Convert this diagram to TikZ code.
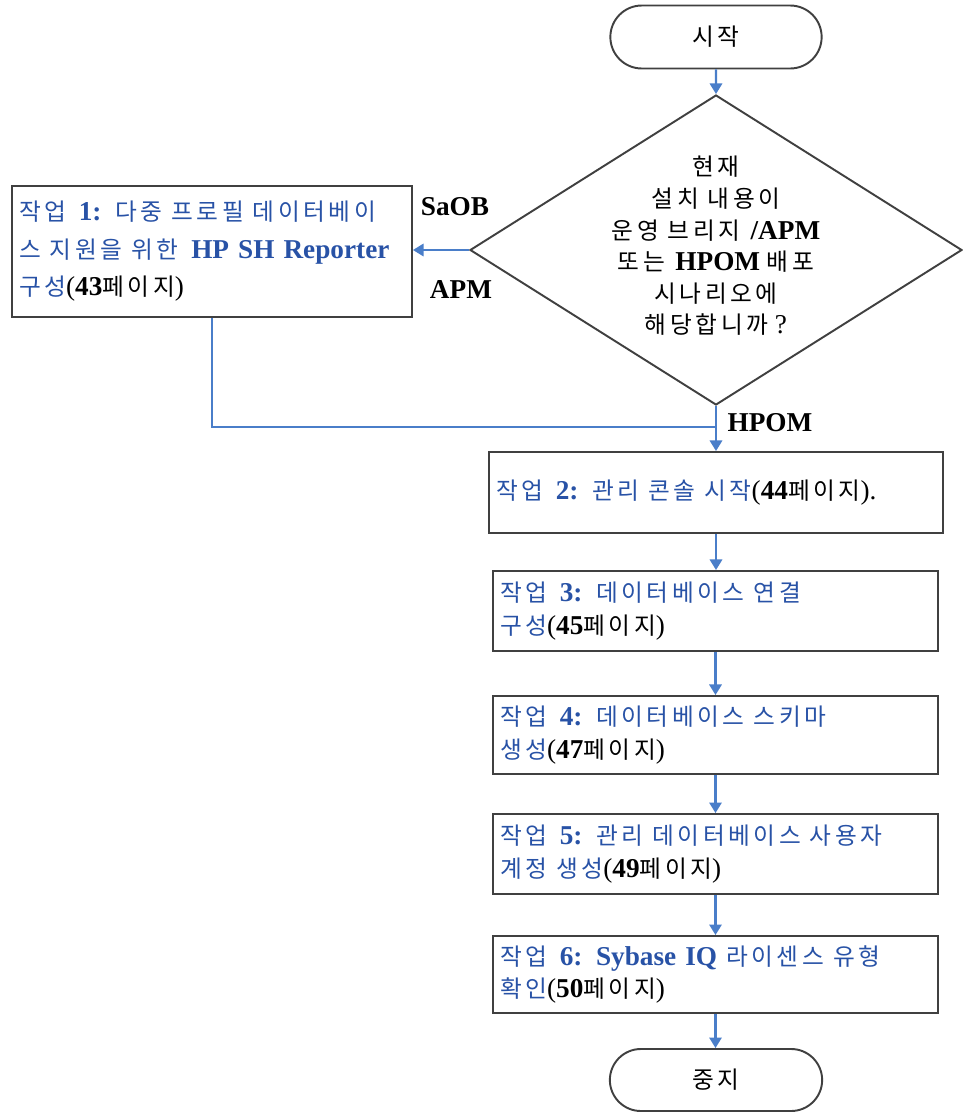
\documentclass[tikz,border=0pt]{standalone}
\usepackage{fontspec}
\setmainfont{Liberation Serif}
\newfontfamily\kr[Scale=0.87,LetterSpace=15]{Noto Sans CJK KR}
\usetikzlibrary{shapes.geometric,shapes.misc,arrows.meta}
\definecolor{taskblue}{RGB}{40,82,166}
\definecolor{arrowblue}{RGB}{74,126,201}
\definecolor{boxgray}{RGB}{64,64,64}
\newcommand{\ko}[1]{{\kr #1}}
\newcommand{\lnk}[1]{\textcolor{taskblue}{#1}}
\newcommand{\widesp}{\spaceskip=7.5pt plus 1pt minus 1pt\relax}
\begin{document}
\begin{tikzpicture}[font=\fontsize{15.5}{19}\selectfont\widesp,
  term/.style={draw=boxgray,line width=1.1pt,rounded rectangle,minimum width=4.46cm,minimum height=1.26cm},
  task/.style={draw=boxgray,line width=1.1pt,rectangle,align=left,inner xsep=0.14cm,inner ysep=0pt},
  flow/.style={draw=arrowblue,line width=1.3pt,-{Triangle[width=7pt,length=6pt]}},
  link/.style={draw=arrowblue,line width=1.3pt}]
\useasboundingbox (0,0) rectangle (19.24,-22.28);
\node[term] (start) at (14.32,-0.74) {\ko{시작}};
\node[draw=boxgray,line width=1.1pt,diamond,minimum width=9.84cm,minimum height=6.2cm,inner sep=0pt] (dec) at (14.32,-5.0) {};
\node[align=center,font=\fontsize{15.5}{18}\selectfont] (question) at (14.32,-4.92)
  {\ko{현재}\\ \ko{설치 내용이}\\ \ko{운영 브리지} \textbf{/APM}\\ \ko{또는} \textbf{HPOM} \ko{배포}\\ \ko{시나리오에}\\ \ko{해당합니까} ?};
\node[task,text width=7.72cm,minimum height=2.62cm,font=\fontsize{15.5}{21.3}\selectfont\widesp] (box1) at (4.24,-5.03)
  {\lnk{\ko{작업} \textbf{1:} \ko{다중 프로필 데이터베이}}\\ \lnk{\ko{스 지원을 위한} \textbf{HP SH Reporter}}\\ \lnk{\ko{구성}}(\textbf{43}\ko{페이지})};
\node[task,text width=8.8cm,minimum height=1.62cm] (box2) at (14.32,-9.85)
  {\lnk{\ko{작업} \textbf{2:} \ko{관리 콘솔 시작}}(\textbf{44}\ko{페이지}).};
\node[task,text width=8.62cm,minimum height=1.6cm,font=\fontsize{15.5}{18.7}\selectfont\widesp] (box3) at (14.31,-12.22)
  {\lnk{\ko{작업} \textbf{3:} \ko{데이터베이스 연결}}\\ \lnk{\ko{구성}}(\textbf{45}\ko{페이지})};
\node[task,text width=8.62cm,minimum height=1.56cm,font=\fontsize{15.5}{18.7}\selectfont\widesp] (box4) at (14.31,-14.70)
  {\lnk{\ko{작업} \textbf{4:} \ko{데이터베이스 스키마}}\\ \lnk{\ko{생성}}(\textbf{47}\ko{페이지})};
\node[task,text width=8.62cm,minimum height=1.6cm,font=\fontsize{15.5}{18.7}\selectfont\widesp] (box5) at (14.31,-17.08)
  {\lnk{\ko{작업} \textbf{5:} \ko{관리 데이터베이스 사용자}}\\ \lnk{\ko{계정 생성}}(\textbf{49}\ko{페이지})};
\node[task,text width=8.62cm,minimum height=1.54cm,font=\fontsize{15.5}{18.7}\selectfont\widesp] (box6) at (14.31,-19.49)
  {\lnk{\ko{작업} \textbf{6:} \textbf{Sybase IQ} \ko{라이센스 유형}}\\ \lnk{\ko{확인}}(\textbf{50}\ko{페이지})};
\node[term,minimum width=4.48cm,minimum height=1.24cm] (stop) at (14.32,-21.6) {\ko{중지}};
\node (saob) at (9.1,-4.14) {\textbf{SaOB}};
\node (apm) at (9.22,-5.8) {\textbf{APM}};
\node (hpom) at (15.4,-8.46) {\textbf{HPOM}};
\coordinate (join) at (14.32,-8.54);
\draw[flow] (start) -- (dec);
\draw[flow] (dec.west) -- (dec.west -| box1.east);
\draw[link] (box1.south) |- (join);
\draw[flow] (dec.south) -- (box2.north);
\draw[flow] (box2.south) -- (box2.south |- box3.north);
\draw[flow] (box3) -- (box4);
\draw[flow] (box4) -- (box5);
\draw[flow] (box5) -- (box6);
\draw[flow] (box6.south) -- (box6.south |- stop.north);
\end{tikzpicture}
\end{document}
